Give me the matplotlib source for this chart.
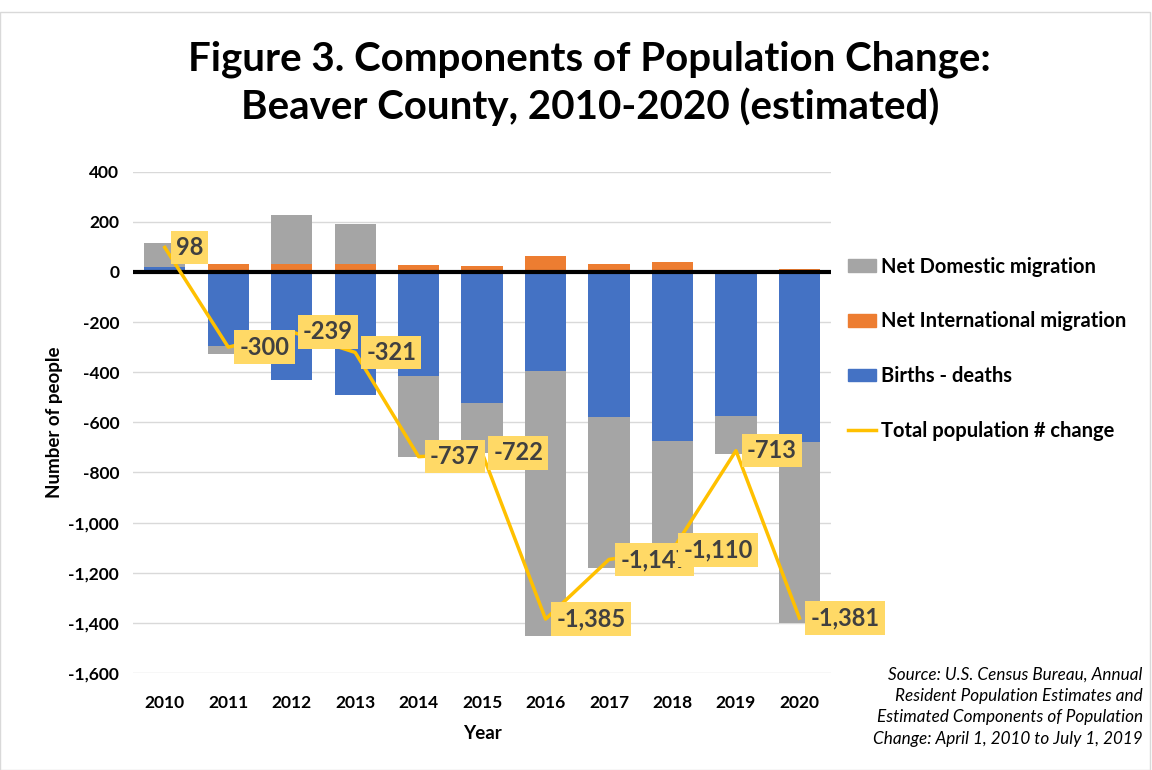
import numpy as np
import matplotlib
matplotlib.use("Agg")
import matplotlib.pyplot as plt
from matplotlib.ticker import FuncFormatter
from matplotlib.patches import Rectangle
from matplotlib.lines import Line2D
from matplotlib.patches import Patch

plt.rcParams['font.family'] = ['Lato', 'DejaVu Sans']

years = ['2010', '2011', '2012', '2013', '2014', '2015', '2016', '2017', '2018', '2019', '2020']
births_deaths = [18, -295, -431, -491, -414, -524, -395, -577, -674, -573, -679]
intl_migration = [0, 32, 32, 32, 28, 24, 64, 32, 40, 5, 11]
domestic_migration = [98, -34, 196, 160, -323, -200, -1058, -603, -476, -152, -722]
total_change = [98, -300, -239, -321, -737, -722, -1385, -1147, -1110, -713, -1381]

series = [
    ('Births - deaths', births_deaths, '#4472C4'),
    ('Net International migration', intl_migration, '#ED7D31'),
    ('Net Domestic migration', domestic_migration, '#A5A5A5'),
]

fig = plt.figure(figsize=(11.52, 7.7), dpi=100)
ax = fig.add_axes([0.1155, 0.126, 0.606, 0.651])

x = np.arange(len(years))
pos = np.zeros(len(years))
neg = np.zeros(len(years))
for name, vals, color in series:
    vals = np.array(vals, dtype=float)
    bottom = np.where(vals >= 0, pos, neg)
    ax.bar(x, vals, bottom=bottom, width=0.65, color=color, zorder=2)
    pos = pos + np.where(vals >= 0, vals, 0)
    neg = neg + np.where(vals < 0, vals, 0)

ax.plot(x, total_change, color='#FFC000', lw=2.5, zorder=4)
for xi, v in zip(x, total_change):
    ax.annotate(f'{v:,}', (xi, v), xytext=(8, 0), textcoords='offset points',
                ha='left', va='center', fontsize=17, fontweight='bold', color='#404040',
                bbox=dict(boxstyle='square,pad=0.22', fc='#FFD966', ec='none'), zorder=5)

ax.axhline(0, color='black', lw=3, zorder=3)
ax.set_ylim(-1600, 400)
ax.set_xlim(-0.5, len(years) - 0.5)
ax.set_yticks(np.arange(-1600, 401, 200))
ax.yaxis.set_major_formatter(FuncFormatter(lambda v, p: f'{int(v):,}'))
ax.set_xticks(x)
ax.set_xticklabels(years)
ax.grid(axis='y', color='#D9D9D9', lw=1, zorder=0)
ax.set_axisbelow(True)
for s in ax.spines.values():
    s.set_visible(False)
ax.tick_params(axis='y', length=0, labelsize=12.5, pad=10)
ax.tick_params(axis='x', length=0, labelsize=12.5, pad=16)
for lbl in ax.get_xticklabels() + ax.get_yticklabels():
    lbl.set_fontweight('bold')
ax.set_xlabel('Year', fontsize=13.5, fontweight='bold', labelpad=10)
ax.set_ylabel('Number of people', fontsize=13.5, fontweight='bold', labelpad=4)

handles = [
    Patch(color='#A5A5A5', label='Net Domestic migration'),
    Patch(color='#ED7D31', label='Net International migration'),
    Patch(color='#4472C4', label='Births - deaths'),
    Line2D([0], [0], color='#FFC000', lw=2.5, label='Total population # change'),
]
fig.legend(handles=handles, loc='upper left', bbox_to_anchor=(0.72, 0.69), frameon=False,
           prop={'size': 14.5, 'weight': 'bold'}, labelspacing=1.72, handlelength=1.4,
           handleheight=0.6, handletextpad=0.25)

fig.text(0.512, 0.892, 'Figure 3. Components of Population Change:\nBeaver County, 2010-2020 (estimated)',
         ha='center', va='center', fontsize=29, fontweight='bold', linespacing=1.32)

fig.text(0.992, 0.082, 'Source: U.S. Census Bureau, Annual\nResident Population Estimates and\n'
         'Estimated Components of Population\nChange: April 1, 2010 to July 1, 2019',
         ha='right', va='center', fontsize=12.3, style='italic', linespacing=1.4)

fig.patches.append(Rectangle((0.0, 0.0), 0.998, 0.984, transform=fig.transFigure,
                             fill=False, ec='#D9D9D9', lw=1))

fig.savefig('out.png', dpi=100)
